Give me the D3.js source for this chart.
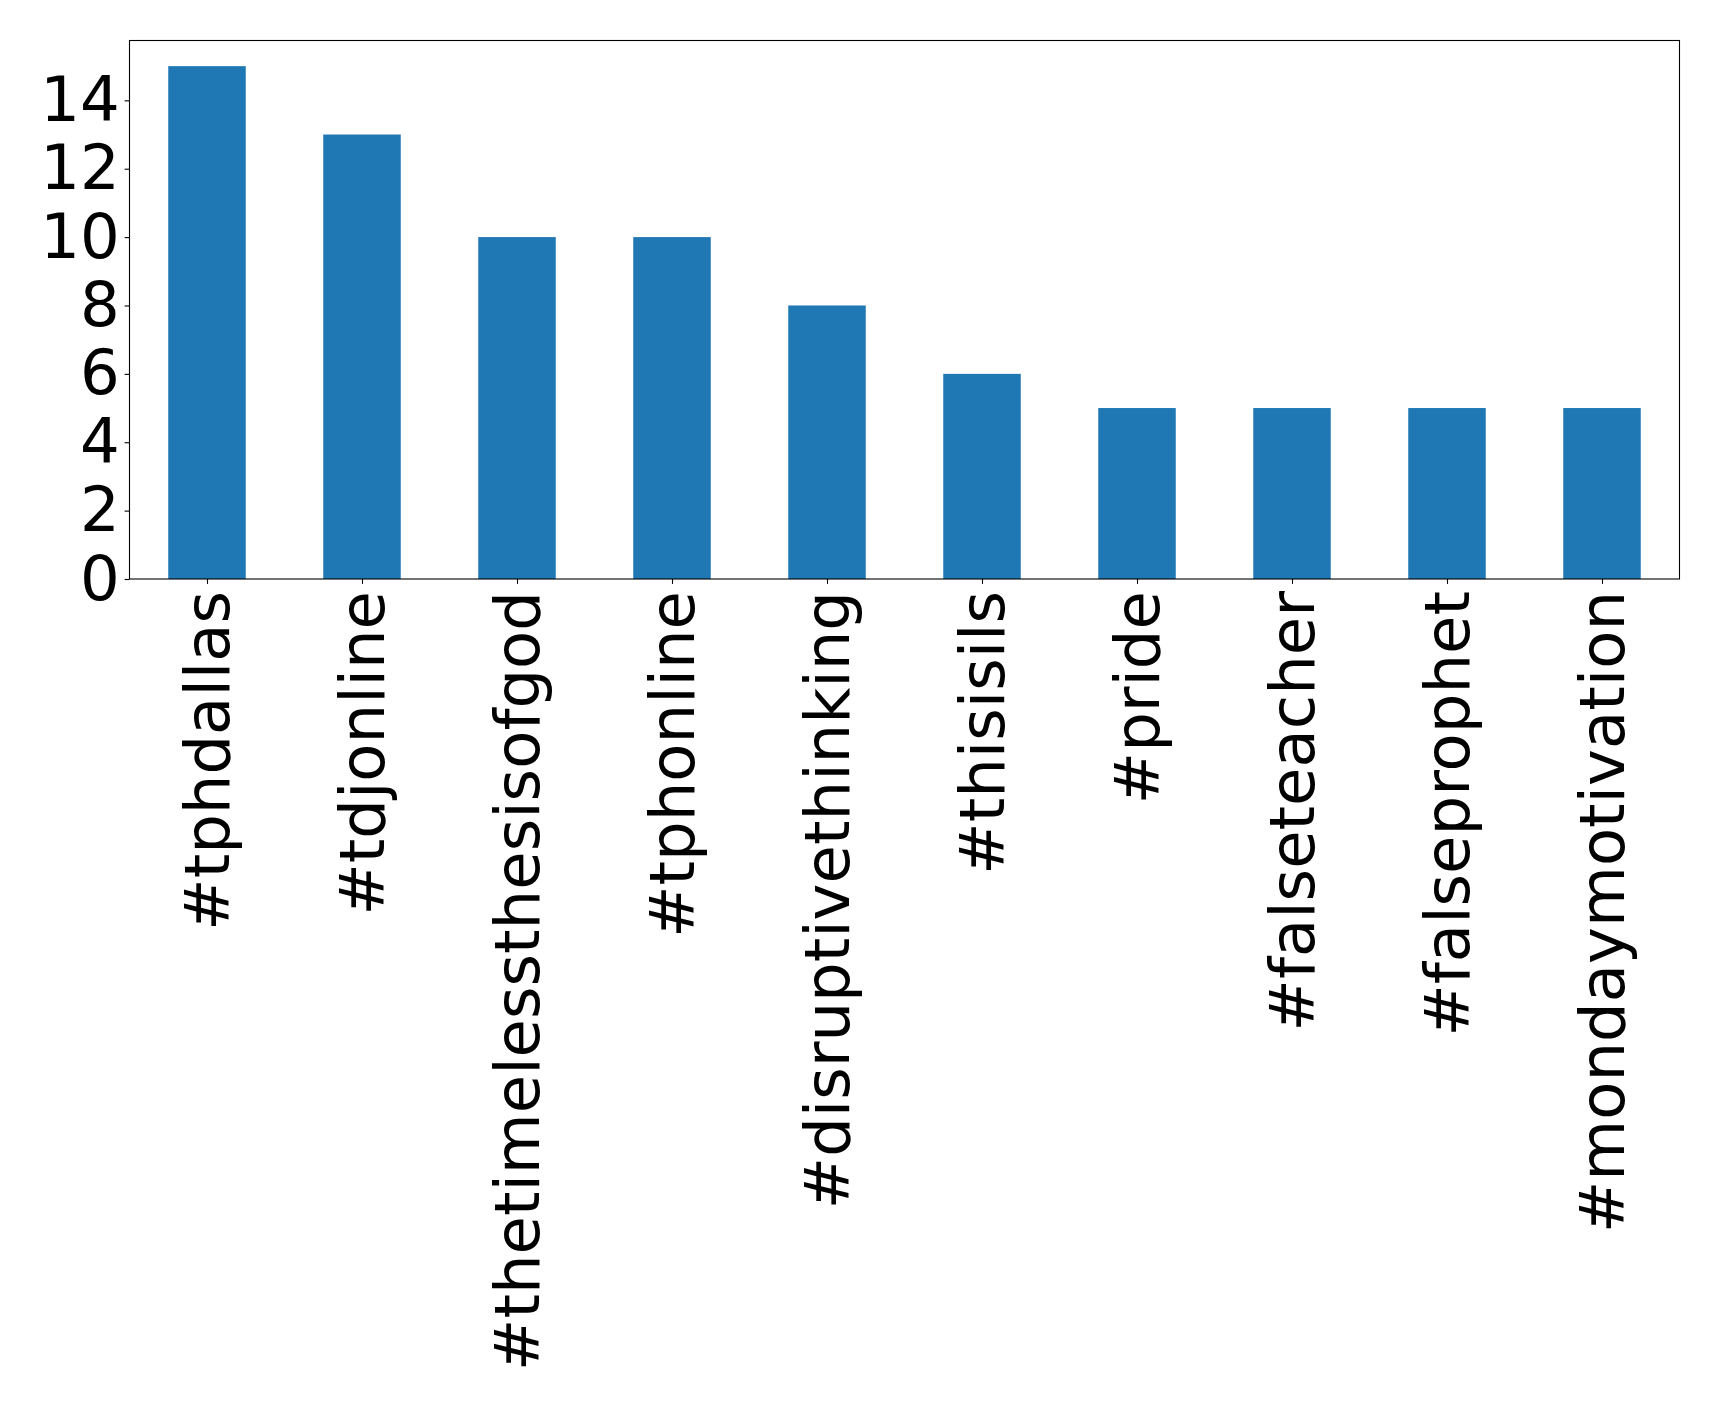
<!DOCTYPE html>
<html>
<head>
<meta charset="utf-8">
<script src="https://cdn.jsdelivr.net/npm/d3@7"></script>
<style>
html,body{margin:0;padding:0;background:#fff;}
svg{display:block;}
text{font-family:"DejaVu Sans",sans-serif;}
</style>
</head>
<body>
<script>
const categories = ["#tphdallas","#tdjonline","#thetimelessthesisofgod","#tphonline","#disruptivethinking","#thisisils","#pride","#falseteacher","#falseprophet","#mondaymotivation"];
const values = [15,13,10,10,8,6,5,5,5,5];
const yTicks = [0,2,4,6,8,10,12,14];

const W = 1719, H = 1408;
const m = {left:129.5, right:1679.5, top:40.5, bottom:579};
const svg = d3.select("body").append("svg").attr("width",W).attr("height",H);

const x = d3.scaleLinear().domain([-0.5, categories.length-0.5]).range([m.left, m.right]);
const y = d3.scaleLinear().domain([0, 15.75]).range([m.bottom, m.top]);

svg.append("g").selectAll("rect").data(values).join("rect")
  .attr("x",(d,i)=>x(i-0.25)).attr("width",(d,i)=>x(i+0.25)-x(i-0.25))
  .attr("y",d=>y(d)).attr("height",d=>y(0)-y(d))
  .attr("fill","#1f77b4");

const yAxis = d3.axisLeft(y).tickValues(yTicks).tickSize(4.9).tickPadding(4.9).tickFormat(d3.format("d"));
const gy = svg.append("g").attr("transform",`translate(${m.left},0)`).call(yAxis);
gy.select(".domain").remove();
gy.selectAll("line").attr("stroke","#000").attr("stroke-width",1.1);
gy.selectAll("text").attr("font-size","62.5px").attr("fill","#000").attr("font-family","DejaVu Sans");

const xAxis = d3.axisBottom(x).tickValues(d3.range(categories.length)).tickSize(4.9).tickPadding(0).tickFormat(i=>categories[i]);
const gx = svg.append("g").attr("transform",`translate(0,${m.bottom})`).call(xAxis);
gx.select(".domain").remove();
gx.selectAll("line").attr("stroke","#000").attr("stroke-width",1.1);
gx.selectAll("text")
  .attr("font-size","62.5px").attr("fill","#000").attr("font-family","DejaVu Sans")
  .attr("text-anchor","end")
  .attr("transform","rotate(-90)")
  .attr("x",-12).attr("y",0).attr("dy","0.34em");

svg.append("rect").attr("x",m.left).attr("y",m.top)
  .attr("width",m.right-m.left).attr("height",m.bottom-m.top)
  .attr("fill","none").attr("stroke","#000").attr("stroke-width",1.1);
</script>
</body>
</html>
